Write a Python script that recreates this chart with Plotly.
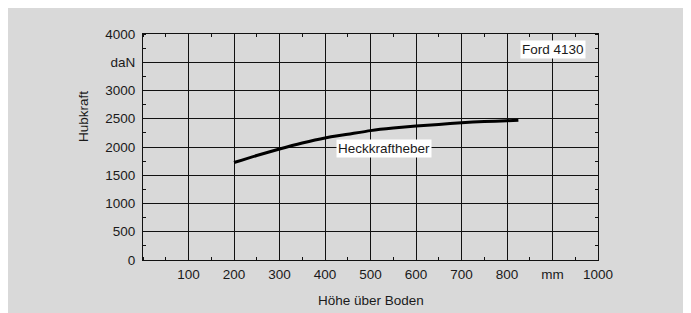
import plotly.graph_objects as go

# Data
hoehe_mm = [200, 250, 300, 350, 400, 450, 500, 550, 600, 650, 700, 750, 800, 825]
hubkraft_daN = [1725, 1850, 1965, 2070, 2160, 2225, 2290, 2335, 2370, 2400, 2430, 2450, 2465, 2475]

x_tickvals = [100, 200, 300, 400, 500, 600, 700, 800, 900, 1000]
x_ticktext = ["100", "200", "300", "400", "500", "600", "700", "800", "mm", "1000"]
y_tickvals = [0, 500, 1000, 1500, 2000, 2500, 3000, 3500, 4000]
y_ticktext = ["0", "500", "1000", "1500", "2000", "2500", "3000", "daN", "4000"]

FONT = "Liberation Sans, Arial, sans-serif"
FS = 13.5
TXT = "#1a1a1a"
GRID = "#111111"
BG = "#d9d9d9"

fig = go.Figure()
fig.add_trace(go.Scatter(
    x=hoehe_mm, y=hubkraft_daN, mode="lines",
    line=dict(color="black", width=3, shape="spline", smoothing=0.6),
    hoverinfo="skip", showlegend=False,
))

# figure sits at (8,8) in the page because of the body margin
W, H = 683, 305
L, R, T, B = 135, 93, 26, 53
pw = W - L - R
ph = H - T - B

axis_common = dict(
    showgrid=True, gridcolor=GRID, gridwidth=1,
    showline=True, linecolor=GRID, linewidth=1, mirror="allticks",
    ticks="", zeroline=False,
    tickfont=dict(family=FONT, size=FS, color=TXT),
)

fig.update_xaxes(
    range=[0, 1000], tickmode="array", tickvals=x_tickvals, ticktext=x_ticktext,
    minor=dict(dtick=50, tick0=0, ticks="inside", ticklen=3, tickcolor=GRID, showgrid=False),
    ticklabelstandoff=2,
    **axis_common,
)
fig.update_yaxes(
    range=[0, 4000], tickmode="array", tickvals=y_tickvals, ticktext=y_ticktext,
    minor=dict(dtick=250, tick0=0, ticks="inside", ticklen=3, tickcolor=GRID, showgrid=False),
    ticklabelstandoff=4,
    **axis_common,
)

fig.add_annotation(x=(75 - L) / pw, y=(H - 109 - B) / ph, xref="paper", yref="paper",
                   xanchor="center", yanchor="middle",
                   text="Hubkraft", textangle=-90, showarrow=False,
                   font=dict(family=FONT, size=FS, color=TXT))
fig.add_annotation(x=0.5, y=(H - 292 - B) / ph, xref="paper", yref="paper",
                   xanchor="center", yanchor="middle",
                   text="Höhe über Boden", showarrow=False,
                   font=dict(family=FONT, size=FS, color=TXT))
fig.add_annotation(x=901, y=3717, text="Ford 4130", showarrow=False,
                   xanchor="center", yanchor="middle",
                   bgcolor="white", borderpad=1,
                   font=dict(family=FONT, size=FS, color=TXT))
fig.add_annotation(x=530, y=1965, text="Heckkraftheber", showarrow=False,
                   xanchor="center", yanchor="middle",
                   bgcolor="white", borderpad=1,
                   font=dict(family=FONT, size=FS, color=TXT))

fig.update_layout(
    width=W, height=H,
    margin=dict(l=L, r=R, t=T, b=B),
    paper_bgcolor=BG, plot_bgcolor=BG,
    font=dict(family=FONT, size=FS, color=TXT),
    showlegend=False,
)

fig.write_html("out.html")
